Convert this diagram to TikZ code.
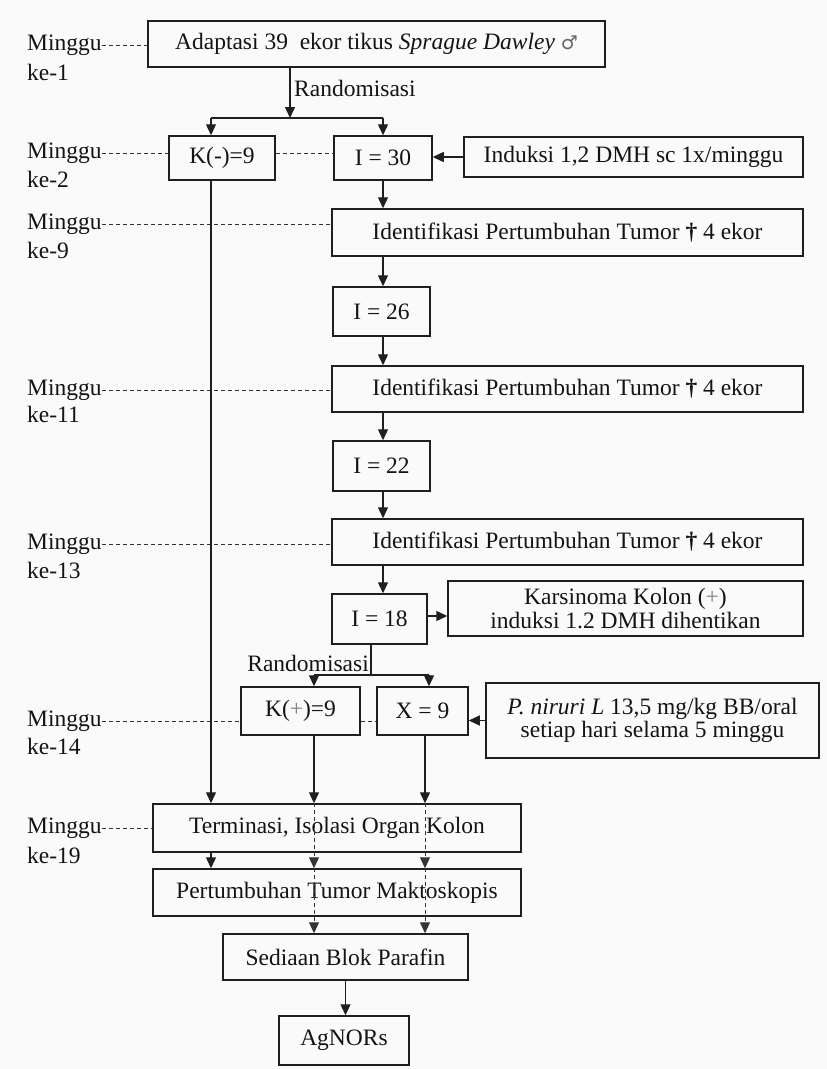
\documentclass[tikz,border=0pt]{standalone}
\usepackage{fontspec}
\setmainfont{Liberation Serif}
\newfontfamily\symfont{DejaVu Sans}
\usetikzlibrary{arrows.meta,calc}
\begin{document}
\begin{tikzpicture}[x=1pt,y=-1pt,
  font=\fontsize{23.5}{23.5}\selectfont,
  every node/.style={text=black!92},
  box/.style={draw=black!88, line width=1.5pt, inner sep=0pt, align=center, fill=none},
  lbl/.style={anchor=west, inner sep=0pt},
  ln/.style={draw=black!88, line width=1.3pt},
  arr/.style={ln, -{Triangle[length=11pt,width=10pt]}},
  wk/.style={draw=black!80, line width=1pt, dash pattern=on 4pt off 3pt},
  wkarr/.style={wk, -{Triangle[length=11pt,width=10pt]}}]
\fill[white!98!black] (0,0) rectangle (827,1069);
\useasboundingbox (0,0) rectangle (827,1069);

% columns
\coordinate (colK) at (211,0);
\coordinate (colI) at (383,0);
\coordinate (c1) at (314,0);
\coordinate (c2) at (425,0);

% boxes
\node[box, minimum width=457pt, minimum height=46pt] (adapt) at (376.5,44) {Adaptasi 39\ \ ekor tikus \textit{Sprague Dawley} {\symfont\fontsize{19}{19}\selectfont\color{black!60}♂}};
\node[box, minimum width=106pt, minimum height=44pt] (km) at (222,158) {K(-)=9};
\node[box, minimum width=98pt, minimum height=44pt] (i30) at (383,158) {I = 30};
\node[box, minimum width=339pt, minimum height=40pt] (ind) at (633.5,157) {Induksi 1,2 DMH sc 1x/minggu};
\node[box, minimum width=471pt, minimum height=47pt] (id1) at (567.5,232.5) {Identifikasi Pertumbuhan Tumor \textbf{†} 4 ekor};
\node[box, minimum width=97pt, minimum height=49pt] (i26) at (381.5,311.5) {I = 26};
\node[box, minimum width=471pt, minimum height=46pt] (id2) at (567.5,389) {Identifikasi Pertumbuhan Tumor \textbf{†} 4 ekor};
\node[box, minimum width=97pt, minimum height=50pt] (i22) at (381.5,466) {I = 22};
\node[box, minimum width=471pt, minimum height=46pt] (id3) at (567.5,542) {Identifikasi Pertumbuhan Tumor \textbf{†} 4 ekor};
\node[box, minimum width=95pt, minimum height=50pt] (i18) at (379.5,619) {I = 18};
\node[box, minimum width=355pt, minimum height=55pt] (kars) at (625.5,608.5) {Karsinoma Kolon ({\color{black!50}+})\\induksi 1.2 DMH dihentikan};
\node[box, minimum width=119pt, minimum height=48pt] (kp) at (300.5,711) {K({\color{black!50}+})=9};
\node[box, minimum width=91pt, minimum height=48pt] (x9) at (422.5,711) {X = 9};
\node[box, minimum width=333pt, minimum height=75pt] (pn) at (652.5,720.5) {\textit{P. niruri L} 13,5 mg/kg BB/oral\\setiap hari selama 5 minggu};
\node[box, minimum width=368pt, minimum height=48pt] (term) at (337,828) {Terminasi, Isolasi Organ Kolon};
\node[box, minimum width=368pt, minimum height=47pt] (pert) at (337,892.5) {Pertumbuhan Tumor Maktoskopis};
\node[box, minimum width=245pt, minimum height=46pt] (sed) at (345.5,957) {Sediaan Blok Parafin};
\node[box, minimum width=130pt, minimum height=49pt] (ag) at (344,1040.5) {AgNORs};

% week labels
\node[lbl] (m1) at (27,45) {Minggu};   \node[lbl] (k1) at (27,72) {ke-1};
\node[lbl] (m2) at (27,153) {Minggu};  \node[lbl] (k2) at (27,179) {ke-2};
\node[lbl] (m9) at (27,224) {Minggu};  \node[lbl] (k9) at (27,250) {ke-9};
\node[lbl] (m11) at (27,390) {Minggu}; \node[lbl] (k11) at (27,414) {ke-11};
\node[lbl] (m13) at (27,544) {Minggu}; \node[lbl] (k13) at (27,570) {ke-13};
\node[lbl] (m14) at (27,721) {Minggu}; \node[lbl] (k14) at (27,746) {ke-14};
\node[lbl] (m19) at (27,828) {Minggu}; \node[lbl] (k19) at (27,855) {ke-19};

% week dashed connectors
\draw[wk] (m1.east) -- (m1.east -| adapt.west);
\draw[wk] (m2.east) -- (m2.east -| km.west);
\draw[wk] (m2.east -| km.east) -- (m2.east -| i30.west);
\draw[wk] (m9.east) -- (m9.east -| id1.west);
\draw[wk] (m11.east) -- (m11.east -| id2.west);
\draw[wk] (m13.east) -- (m13.east -| id3.west);
\draw[wk] (m14.east) -- (m14.east -| kp.west);
\draw[wk] (m14.east -| kp.east) -- (m14.east -| x9.west);
\draw[wk] (m19.east) -- (m19.east -| term.west);

% first randomisation
\coordinate (r1) at (290,118);
\coordinate (r1l) at (colK |- r1);
\coordinate (r1r) at (colI |- r1);
\draw[arr] (r1 |- adapt.south) -- (r1);
\draw[ln] (r1l) -- (r1r);
\draw[arr] (r1l) -- (r1l |- km.north);
\draw[arr] (r1r) -- (r1r |- i30.north);
\node[lbl] (rand1) at (294,88) {Randomisasi};

% induction chain
\draw[arr] (ind.west) -- (ind.west -| i30.east);
\draw[arr] (colI |- i30.south) -- (colI |- id1.north);
\draw[arr] (colI |- id1.south) -- (colI |- i26.north);
\draw[arr] (colI |- i26.south) -- (colI |- id2.north);
\draw[arr] (colI |- id2.south) -- (colI |- i22.north);
\draw[arr] (colI |- i22.south) -- (colI |- id3.north);
\draw[arr] (colI |- id3.south) -- (colI |- i18.north);
\draw[arr] ($(i18.east)+(0,-3)$) -- ($(i18.east -| kars.west)+(0,-3)$);

% second randomisation
\coordinate (r2) at (371,675);
\coordinate (r2l) at (c1 |- r2);
\coordinate (r2r) at (429,675);
\draw[ln] (r2 |- i18.south) -- (r2);
\draw[ln] (r2l) -- (r2r);
\draw[arr] (r2l) -- (r2l |- kp.north);
\draw[arr] (r2r) -- (r2r |- x9.north);
\node[anchor=east, inner sep=0pt] (rand2) at (369,663) {Randomisasi};
\draw[arr] (pn.west) -- (pn.west -| x9.east);

% to termination
\draw[arr] (colK |- km.south) -- (colK |- term.north);
\draw[arr] (c1 |- kp.south) -- (c1 |- term.north);
\draw[arr] (c2 |- x9.south) -- (c2 |- term.north);
\draw[arr] (colK |- term.south) -- (colK |- pert.north);
\draw[wkarr] (c1 |- term.north) -- (c1 |- pert.north);
\draw[wkarr] (c2 |- term.north) -- (c2 |- pert.north);
\draw[wkarr] (c1 |- pert.north) -- (c1 |- sed.north);
\draw[wkarr] (c2 |- pert.north) -- (c2 |- sed.north);
\draw[arr] (sed.south) -- (sed.south |- ag.north);
\end{tikzpicture}
\end{document}
